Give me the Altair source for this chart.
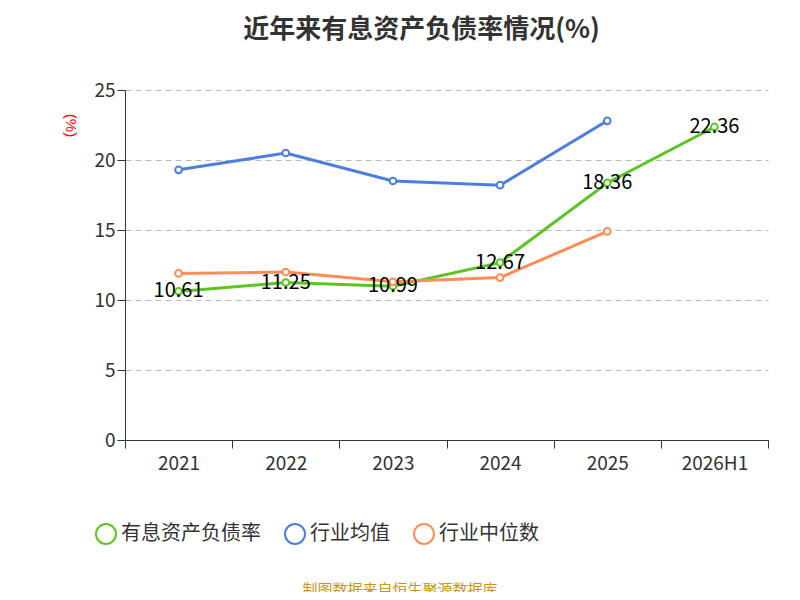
import altair as alt
import pandas as pd

years = ["2021", "2022", "2023", "2024", "2025", "2026H1"]
debt = [10.61, 11.25, 10.99, 12.67, 18.36, 22.36]
avg = [19.3, 20.5, 18.5, 18.2, 22.8]
med = [11.9, 12.0, 11.3, 11.6, 14.9]
names = ["有息资产负债率", "行业均值", "行业中位数"]
colors = ["#5bc524", "#4a7fdf", "#fe8c58"]

rows = []
for y, v in zip(years, debt):
    rows.append({"year": y, "v": v, "s": names[0], "lab": f"{v:.2f}"})
for y, v in zip(years, avg):
    rows.append({"year": y, "v": v, "s": names[1], "lab": ""})
for y, v in zip(years, med):
    rows.append({"year": y, "v": v, "s": names[2], "lab": ""})
df = pd.DataFrame(rows)

font = "Noto Sans CJK SC"
x = alt.X("year:N", sort=years, scale=alt.Scale(domain=years, paddingInner=0, paddingOuter=0),
          axis=alt.Axis(title=None, labelAngle=0, labelFontSize=19, labelColor="#333",
                        labelFont=font, tickBand="extent", domainColor="#333",
                        tickColor="#333", tickSize=8, labelPadding=6, grid=False))
y = alt.Y("v:Q", scale=alt.Scale(domain=[0, 25]),
          axis=alt.Axis(values=[0, 5, 10, 15, 20, 25], labelFontSize=19, labelColor="#333",
                        labelFont=font, gridDash=[6, 4], gridColor="#bbb", domain=True,
                        domainColor="#333", tickColor="#333", tickSize=8,
                        title="(%)", titleColor="red", titleFontSize=15,
                        titleFontWeight="normal", titleX=-63, titleY=35, titleAngle=90))
cscale = alt.Scale(domain=names, range=colors)
color = alt.Color("s:N", scale=cscale,
                  legend=alt.Legend(title=None, orient="none", direction="horizontal",
                                    legendX=-30, legendY=433, labelFontSize=20, labelFont=font,
                                    labelColor="#333", symbolType="circle", symbolSize=400,
                                    symbolFillColor="white", symbolStrokeWidth=2,
                                    columnPadding=20, labelLimit=300))
base = alt.Chart(df)
lines = base.mark_line(strokeWidth=3).encode(x=x, y=y, color=color)
pts = base.mark_point(filled=False, fill="white", fillOpacity=1, size=45, strokeWidth=2,
                      opacity=1).encode(
    x=x, y=y, stroke=alt.Stroke("s:N", scale=cscale, legend=None))
labels = base.transform_filter("datum.lab != ''").mark_text(fontSize=20, color="black", font=font).encode(
    x=x, y=y, text="lab:N")
src = alt.Chart(pd.DataFrame({"t": ["制图数据来自恒生聚源数据库"]})).mark_text(
    fontSize=15, color="#c8961e", font=font).encode(x=alt.value(275), y=alt.value(500), text="t:N")

chart = alt.layer(lines, pts, labels, src).properties(
    width=643, height=350,
    title=alt.Title("近年来有息资产负债率情况(%)", fontSize=26, font=font, fontWeight="bold",
                    color="#333", anchor="middle", offset=38, dx=-25),
    autosize=alt.AutoSizeParams(type="none"),
    padding={"left": 117, "top": 82, "right": 16, "bottom": 152},
).configure_view(stroke=None)

chart.save("out.html", embed_options={"renderer": "svg", "actions": False})
